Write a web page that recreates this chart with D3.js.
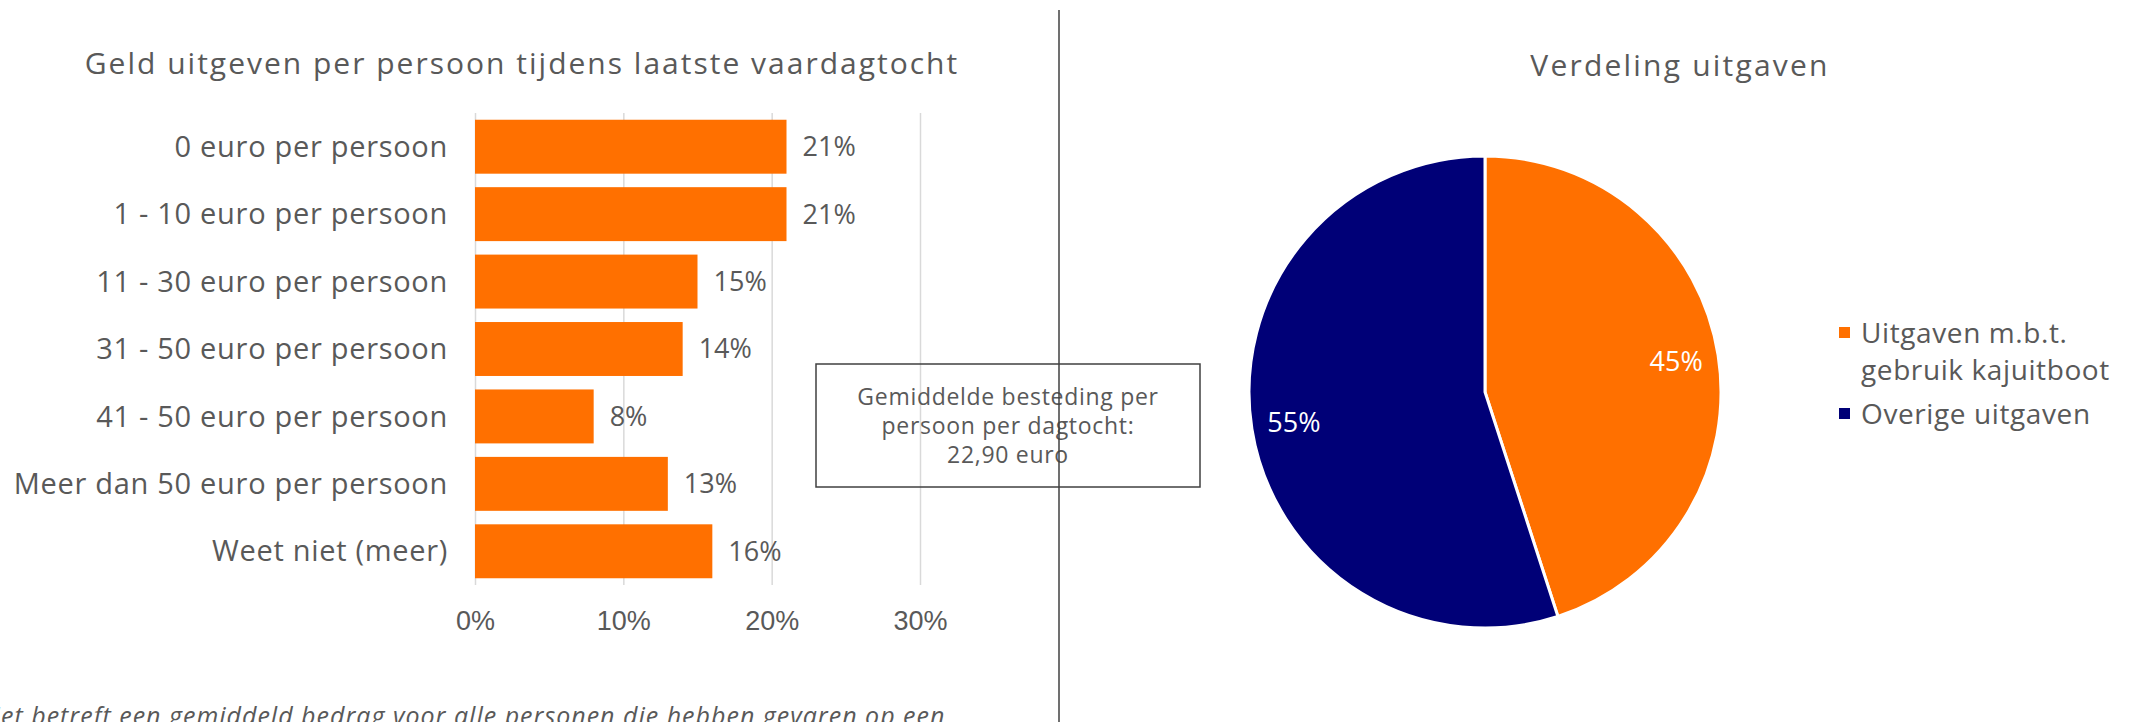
<!DOCTYPE html>
<html>
<head>
<meta charset="utf-8">
<script src="https://cdn.jsdelivr.net/npm/d3@7"></script>
<style>
  body { margin: 0; background: #fff; }
  svg { display: block; font-family: "Open Sans", sans-serif; }
</style>
</head>
<body>
<svg id="chart" width="2131" height="722"></svg>
<script>
// bar chart: share of respondents per spending bracket
const categories = [
  '0 euro per persoon',
  '1 - 10 euro per persoon',
  '11 - 30 euro per persoon',
  '31 - 50 euro per persoon',
  '41 - 50 euro per persoon',
  'Meer dan 50 euro per persoon',
  'Weet niet (meer)',
];
const shares = [0.21, 0.21, 0.15, 0.14, 0.08, 0.13, 0.16];
const xTicks = [0, 0.1, 0.2, 0.3];

// pie: split of spending
const pieNames = ['Uitgaven m.b.t. gebruik kajuitboot', 'Overige uitgaven'];
const pieValues = [0.45, 0.55];
const legendLines = [['Uitgaven m.b.t.', 'gebruik kajuitboot'], ['Overige uitgaven']];

const barTitle = 'Geld uitgeven per persoon tijdens laatste vaardagtocht';
const pieTitle = 'Verdeling uitgaven';
const boxLines = ['Gemiddelde besteding per', 'persoon per dagtocht:', '22,90 euro'];
const footnote = 'Het betreft een gemiddeld bedrag voor alle personen die hebben gevaren op een';

const ORANGE = '#ff7000';
const NAVY = '#000077';
const TEXT = '#595959';
const pct = d3.format('.0%');

const svg = d3.select('#chart');

// ---- bar chart ----
const x = d3.scaleLinear().domain([0, 0.3]).range([475, 920]);
const y = d3.scaleBand().domain(categories).range([113, 585])
  .paddingInner(0.2).paddingOuter(0.1);

svg.append('text')
  .attr('x', 522).attr('y', 74)
  .attr('text-anchor', 'middle')
  .attr('font-size', 30).attr('letter-spacing', 2).attr('fill', TEXT)
  .text(barTitle);

const xAxis = svg.append('g')
  .attr('transform', 'translate(0,585)')
  .call(d3.axisBottom(x).tickValues(xTicks).tickFormat(pct)
    .tickSize(-472).tickPadding(26));
xAxis.select('.domain').remove();
xAxis.selectAll('.tick line').attr('stroke', '#d9d9d9').attr('stroke-width', 1.5);
xAxis.selectAll('.tick text')
  .attr('font-size', 27).attr('fill', TEXT).attr('font-family', null);

svg.append('g').selectAll('rect')
  .data(shares)
  .join('rect')
  .attr('x', x(0))
  .attr('y', (d, i) => y(categories[i]))
  .attr('width', d => x(d) - x(0))
  .attr('height', y.bandwidth())
  .attr('fill', ORANGE);

svg.append('g').selectAll('text')
  .data(categories)
  .join('text')
  .attr('x', 448)
  .attr('y', d => y(d) + y.bandwidth() / 2)
  .attr('dy', '0.35em')
  .attr('text-anchor', 'end')
  .attr('font-size', 29).attr('letter-spacing', 0.7).attr('fill', TEXT)
  .text(d => d);

svg.append('g').selectAll('text')
  .data(shares)
  .join('text')
  .attr('x', d => x(d) + 16)
  .attr('y', (d, i) => y(categories[i]) + y.bandwidth() / 2)
  .attr('dy', '0.35em')
  .attr('font-size', 27).attr('fill', TEXT)
  .text(d => pct(d));

// average box
svg.append('rect')
  .attr('x', 816).attr('y', 364).attr('width', 384).attr('height', 123)
  .attr('fill', 'none').attr('stroke', '#404040').attr('stroke-width', 1.5);
svg.append('g').selectAll('text')
  .data(boxLines)
  .join('text')
  .attr('x', 1008)
  .attr('y', (d, i) => 405 + i * 29)
  .attr('text-anchor', 'middle')
  .attr('font-size', 23).attr('letter-spacing', 0.7).attr('fill', TEXT)
  .text(d => d);

// divider between the two panels
svg.append('line')
  .attr('x1', 1059).attr('x2', 1059).attr('y1', 10).attr('y2', 722)
  .attr('stroke', '#404040').attr('stroke-width', 1.5);

svg.append('text')
  .attr('x', -17).attr('y', 725)
  .attr('font-size', 25).attr('letter-spacing', 1).attr('font-style', 'italic')
  .attr('fill', TEXT)
  .text(footnote);

// ---- pie ----
const radius = 236;
const pieG = svg.append('g').attr('transform', 'translate(1485,392)');
const arcs = d3.pie().sort(null)(pieValues);
const arc = d3.arc().innerRadius(0).outerRadius(radius);
const labelArc = d3.arc().innerRadius(radius * 0.82).outerRadius(radius * 0.82);
const colors = [ORANGE, NAVY];

svg.append('text')
  .attr('x', 1680).attr('y', 76)
  .attr('text-anchor', 'middle')
  .attr('font-size', 30).attr('letter-spacing', 2.2).attr('fill', TEXT)
  .text(pieTitle);

pieG.selectAll('path')
  .data(arcs)
  .join('path')
  .attr('d', arc)
  .attr('fill', (d, i) => colors[i])
  .attr('stroke', '#fff').attr('stroke-width', 3);

pieG.selectAll('text')
  .data(arcs)
  .join('text')
  .attr('transform', d => 'translate(' + labelArc.centroid(d) + ')')
  .attr('dy', '0.35em')
  .attr('text-anchor', 'middle')
  .attr('font-size', 27).attr('fill', '#fff')
  .text(d => pct(d.data));

// legend
const legend = svg.append('g').selectAll('g')
  .data(pieNames)
  .join('g')
  .attr('transform', (d, i) => 'translate(1839,' + (i === 0 ? 327 : 408) + ')');
legend.append('rect')
  .attr('width', 11).attr('height', 11)
  .attr('fill', (d, i) => colors[i]);
legend.append('text')
  .attr('x', 22).attr('y', 16)
  .attr('font-size', 28).attr('letter-spacing', 0.6).attr('fill', TEXT)
  .selectAll('tspan')
  .data((d, i) => legendLines[i])
  .join('tspan')
  .attr('x', 22)
  .attr('dy', (d, j) => j === 0 ? 0 : 37)
  .text(d => d);
</script>
</body>
</html>
